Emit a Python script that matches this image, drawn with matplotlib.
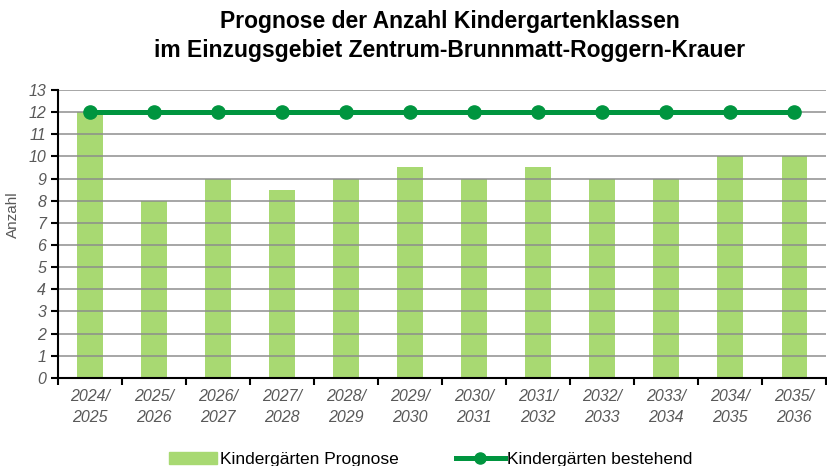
import numpy as np
import matplotlib
matplotlib.use("Agg")
import matplotlib.pyplot as plt
from matplotlib.lines import Line2D
from matplotlib.patches import Patch

plt.rcParams["font.family"] = ["Liberation Sans", "DejaVu Sans"]

# data
jahre = ["2024/\n2025", "2025/\n2026", "2026/\n2027", "2027/\n2028", "2028/\n2029", "2029/\n2030",
         "2030/\n2031", "2031/\n2032", "2032/\n2033", "2033/\n2034", "2034/\n2035", "2035/\n2036"]
prognose = [12, 8, 9, 8.5, 9, 9.5, 9, 9.5, 9, 9, 10, 10]
bestehend = [12, 12, 12, 12, 12, 12, 12, 12, 12, 12, 12, 12]

BAR_COL = "#a8d972"
LINE_COL = "#00953f"
TXT_COL = "#595959"

fig = plt.figure(figsize=(8.28, 4.66), dpi=100)
ax = fig.add_axes([0.070, 0.189, 0.928, 0.618])

x = np.arange(len(jahre))
ax.bar(x, prognose, width=0.4, color=BAR_COL, zorder=2)
ax.plot(x, bestehend, color=LINE_COL, linewidth=3.6, marker="o", markersize=9.5, zorder=4)

ax.set_xlim(-0.5, len(jahre) - 0.5)
ax.set_ylim(0, 13)
ax.set_yticks(range(0, 14))
ax.grid(axis="y", color="#8c8c8c", linewidth=1.2, alpha=0.9, zorder=3)
ax.set_axisbelow(False)

# x: Striche an den Grenzen, Beschriftung in der Mitte
ax.set_xticks(np.arange(-0.5, len(jahre), 1.0))
ax.set_xticklabels([])
ax.set_xticks(x, minor=True)
ax.set_xticklabels(jahre, minor=True)
ax.tick_params(axis="x", which="major", length=5, width=1.5, color="black", direction="out")
ax.tick_params(axis="x", which="minor", length=0, pad=8, labelsize=11.5, labelcolor=TXT_COL)
for t in ax.get_xticklabels(minor=True):
    t.set_fontstyle("italic")
    t.set_linespacing(1.5)
ax.tick_params(axis="y", length=5, width=1.5, color="black", labelsize=11.5, labelcolor=TXT_COL)
for t in ax.get_yticklabels():
    t.set_fontstyle("italic")

for s in ["top", "right"]:
    ax.spines[s].set_visible(False)
for s in ["left", "bottom"]:
    ax.spines[s].set_linewidth(1.5)
    ax.spines[s].set_zorder(5)

fig.text(0.016, 0.54, "Anzahl", rotation=90, ha="center", va="center", fontsize=11, color=TXT_COL)

fig.text(0.543, 0.923, "Prognose der Anzahl Kindergartenklassen\nim Einzugsgebiet Zentrum-Brunnmatt-Roggern-Krauer",
         ha="center", va="center", fontsize=16.5, fontweight="bold", linespacing=1.35)

handles = [Patch(color=BAR_COL), Line2D([], [], color=LINE_COL, linewidth=3.6, marker="o", markersize=8)]
fig.legend(handles, ["Kindergärten Prognose", "Kindergärten bestehend"], loc="center",
           bbox_to_anchor=(0.52, 0.014), ncol=2, frameon=False, fontsize=12.5,
           handlelength=2.8, columnspacing=3.3, handletextpad=0.15, labelcolor="black")

fig.savefig("out.png", dpi=100)
